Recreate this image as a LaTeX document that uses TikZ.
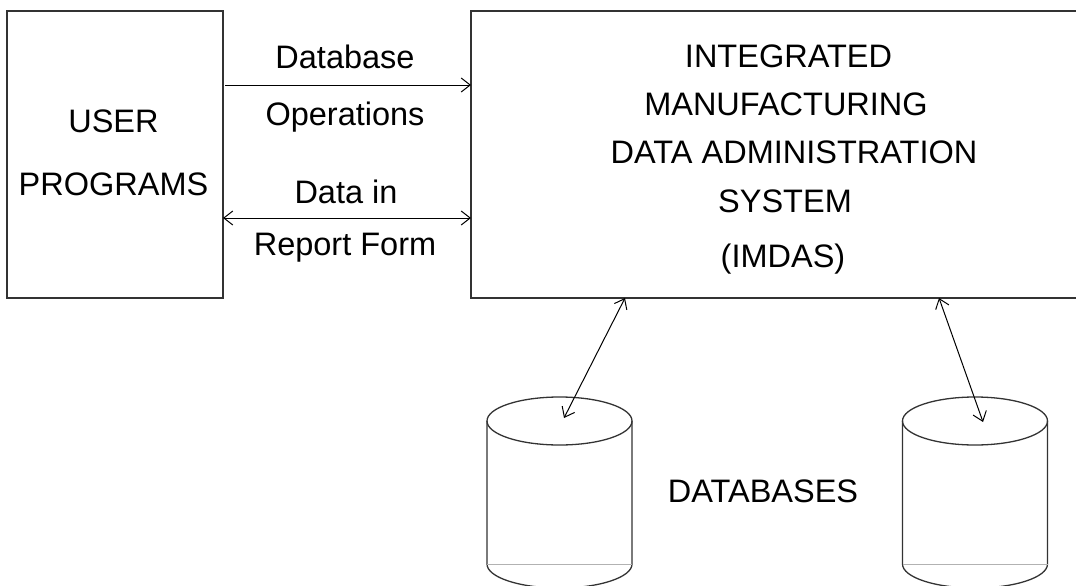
\documentclass[tikz,border=0pt]{standalone}
\usepackage{fontspec}
\setmainfont{Liberation Sans}
\usetikzlibrary{arrows.meta}
\begin{document}
\begin{tikzpicture}[x=1pt,y=-1pt,
  boxline/.style={draw=black!80, line width=1.3pt},
  conn/.style={draw=black, line width=1pt, -{Straight Barb[length=9pt,width=14pt]}},
  dconn/.style={draw=black, line width=1pt, {Straight Barb[length=9pt,width=14pt]}-{Straight Barb[length=9pt,width=14pt]}},
  lbl/.style={anchor=base, inner sep=0pt, font=\fontsize{32.5}{38}\selectfont},
  cylline/.style={draw=black!80, line width=1.3pt}]
\useasboundingbox (0,0) rectangle (1076,586);
\clip (0,0) rectangle (1076,586);
% boxes
\node[boxline, minimum width=216pt, minimum height=287pt, outer sep=0pt, inner sep=0pt] (user) at (115,154.5) {};
\node[boxline, minimum width=620pt, minimum height=287pt, outer sep=0pt, inner sep=0pt] (imdas) at (781,154.5) {};
% left box text
\node[lbl] (u1) at (113.5,132) {USER};
\node[lbl] (u2) at (113.5,195) {PROGRAMS};
% right box text
\node[lbl] (t1) at (788.5,67) {INTEGRATED};
\node[lbl] (t2) at (786,115) {MANUFACTURING};
\node[lbl] (t3) at (794,163) {DATA ADMINISTRATION};
\node[lbl] (t4) at (785,212) {SYSTEM};
\node[lbl] (t5) at (783,267) {(IMDAS)};
% connector labels
\node[lbl] (l1) at (345,69) {Database};
\node[lbl] (l2) at (345,125) {Operations};
\node[lbl] (l3) at (346,203) {Data in};
\node[lbl] (l4) at (345,255) {Report Form};
% horizontal connectors
\coordinate (a1s) at (225,85);
\coordinate (a2s) at (user.east |- 0,218);
\draw[conn] (a1s) -- (imdas.west |- a1s);
\draw[dconn] (a2s) -- (imdas.west |- a2s);
% cylinders
\foreach \cx/\nm in {559.5/dba, 975/dbb}{
  \draw[cylline] (\cx-72.5,421) -- (\cx-72.5,564) arc[start angle=180, end angle=360, x radius=72.5pt, y radius=24pt] -- (\cx+72.5,421);
  \draw[cylline] (\cx,421) ellipse[x radius=72.5pt, y radius=24pt];
  \draw[draw=black!30, line width=0.8pt] (\cx-72.5,564) -- (\cx+72.5,564);
  \coordinate (\nm) at (\cx,421);
}
\node[lbl] (dbl) at (763,502) {DATABASES};
% vertical connectors
\coordinate (e1) at (625,298);
\coordinate (f1) at (564,418);
\coordinate (e2) at (939,298);
\coordinate (f2) at (983,422);
\draw[dconn] (e1) -- (f1);
\draw[dconn] (e2) -- (f2);
\end{tikzpicture}
\end{document}
